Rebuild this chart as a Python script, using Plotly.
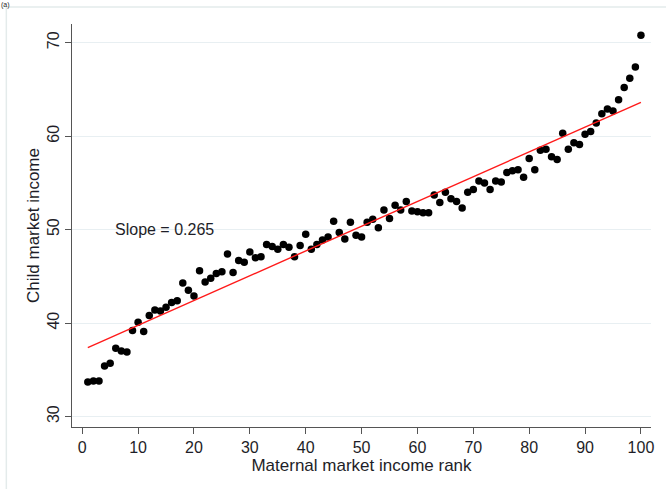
import numpy as np
import plotly.graph_objects as go

# Maternal market income rank (percentiles 1..100)
rank = list(range(1, 101))

# Mean child market income for each maternal income rank
child_income = [
    33.7, 33.8, 33.8, 35.4, 35.7, 37.3, 37.0, 36.9, 39.2, 40.1,
    39.1, 40.8, 41.4, 41.3, 41.7, 42.2, 42.4, 44.3, 43.5, 42.9,
    45.6, 44.4, 44.8, 45.3, 45.5, 47.4, 45.4, 46.7, 46.5, 47.6,
    47.0, 47.1, 48.4, 48.2, 47.9, 48.4, 48.1, 47.1, 48.3, 49.5,
    47.9, 48.4, 48.9, 49.2, 50.9, 49.7, 49.0, 50.8, 49.4, 49.2,
    50.8, 51.1, 50.2, 52.1, 51.2, 52.6, 52.1, 53.0, 52.0, 51.9,
    51.8, 51.8, 53.7, 52.9, 54.0, 53.3, 53.0, 52.3, 54.0, 54.3,
    55.2, 55.0, 54.3, 55.2, 55.1, 56.1, 56.3, 56.4, 55.6, 57.6,
    56.4, 58.5, 58.6, 57.8, 57.5, 60.3, 58.6, 59.3, 59.1, 60.2,
    60.5, 61.4, 62.4, 62.9, 62.7, 63.9, 65.2, 66.2, 67.4, 70.8,
]

slope = 0.265
x_ticks = list(range(0, 101, 10))
y_ticks = [30, 40, 50, 60, 70]

# Fitted line through the means with the reported slope
x_arr = np.array(rank, dtype=float)
y_arr = np.array(child_income, dtype=float)
intercept = y_arr.mean() - slope * x_arr.mean()
fit_x = [x_arr.min(), x_arr.max()]
fit_y = [intercept + slope * v for v in fit_x]

FONT = "Liberation Sans, Arial, sans-serif"
TXT = "#1e1e28"

fig = go.Figure()
fig.add_trace(go.Scatter(
    x=rank, y=child_income, mode="markers",
    marker=dict(color="black", size=7.5, line=dict(width=0)),
    showlegend=False, hoverinfo="skip",
))
fig.add_trace(go.Scatter(
    x=fit_x, y=fit_y, mode="lines",
    line=dict(color="#ff1a1a", width=1.4),
    showlegend=False, hoverinfo="skip",
))

fig.add_annotation(
    x=5.5, y=50, xref="x", yref="y", xanchor="left", yanchor="middle",
    text="Slope = 0.265", showarrow=False,
    font=dict(family=FONT, size=16, color=TXT),
)

# panel label at the top-left, above the frame
fig.add_annotation(
    x=0.0, y=1.0, xref="paper", yref="paper", xanchor="left", yanchor="top",
    xshift=-72, yshift=24,
    text="(a)", showarrow=False, borderpad=0,
    font=dict(family=FONT, size=7, color=TXT),
)

# light frame around the graph region
fig.add_shape(
    type="rect", xref="paper", yref="paper",
    x0=-0.1134, x1=1.2, y0=-0.2, y1=1.0423,
    line=dict(color="#e4ebeb", width=1.5), fillcolor="rgba(0,0,0,0)",
    layer="below",
)

fig.update_layout(
    width=666, height=489,
    margin=dict(l=72, r=12, t=24, b=62),
    paper_bgcolor="white", plot_bgcolor="white",
    font=dict(family=FONT, color=TXT),
)
fig.update_xaxes(
    range=[-1.83, 101.8], tickmode="array", tickvals=x_ticks,
    showgrid=False, zeroline=False,
    showline=True, linecolor="#555555", linewidth=1.2,
    ticks="outside", ticklen=6, tickcolor="#555555", tickwidth=1.2,
    tickfont=dict(family=FONT, size=16, color=TXT),
    title=dict(text="Maternal market income rank", standoff=0,
               font=dict(family=FONT, size=17, color=TXT)),
)
fig.update_yaxes(
    range=[28.88, 72.0], tickmode="array", tickvals=y_ticks,
    showgrid=True, gridcolor="#e8eff2", gridwidth=1.2, zeroline=False,
    showline=True, linecolor="#555555", linewidth=1.2,
    ticks="outside", ticklen=6, tickcolor="#555555", tickwidth=1.2,
    tickangle=-90,
    tickfont=dict(family=FONT, size=16, color=TXT),
    title=dict(text="Child market income", standoff=0,
               font=dict(family=FONT, size=17, color=TXT)),
)

fig.write_html("out.html")
